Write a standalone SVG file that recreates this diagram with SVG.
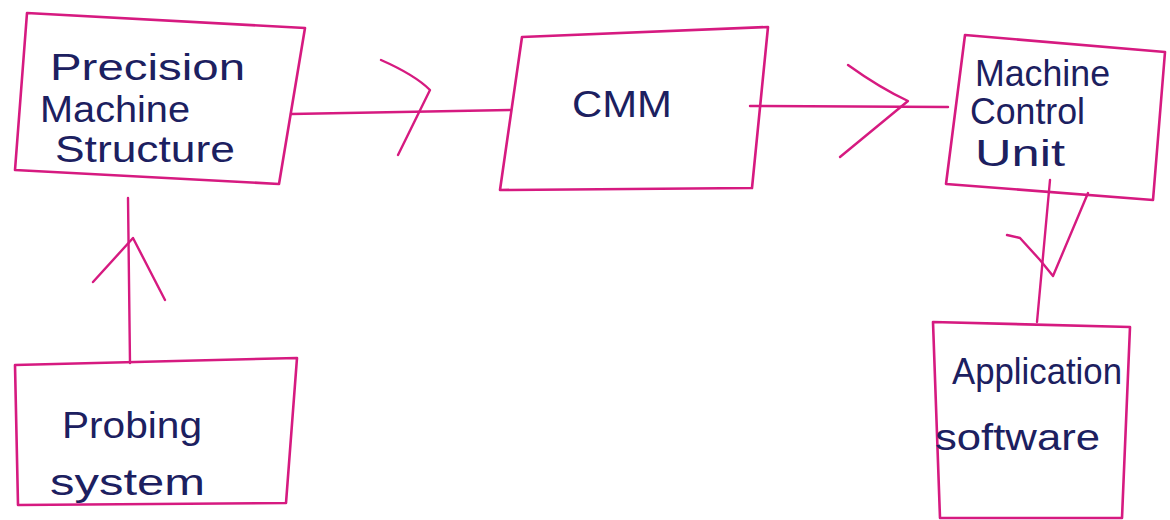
<svg xmlns="http://www.w3.org/2000/svg" width="1170" height="520" viewBox="0 0 1170 520">
<style>
.box{fill:none;stroke:#d61a80;stroke-width:2.6;stroke-linejoin:round}
.ln{fill:none;stroke:#d61a80;stroke-width:2.4;stroke-linecap:round;stroke-linejoin:round}
.t{font-family:"Liberation Sans",Arial,sans-serif;font-size:36px;fill:#1c2060}
</style>
<rect width="1170" height="520" fill="#ffffff"/>
<g id="precision-machine-structure">
<polygon class="box" points="27,13 305,28 279,184 15,170"/>
<text class="t" x="50" y="80" textLength="195" lengthAdjust="spacingAndGlyphs">Precision</text>
<text class="t" x="40" y="122" textLength="150" lengthAdjust="spacingAndGlyphs">Machine</text>
<text class="t" x="55" y="162" textLength="180" lengthAdjust="spacingAndGlyphs">Structure</text>
</g>
<g id="cmm">
<polygon class="box" points="522,37 768,27 752,188 500,190"/>
<text class="t" x="572" y="117" textLength="100" lengthAdjust="spacingAndGlyphs">CMM</text>
</g>
<g id="machine-control-unit">
<polygon class="box" points="965,35 1165,52 1153,200 946,184"/>
<text class="t" x="975" y="86" font-size="30" textLength="135" lengthAdjust="spacingAndGlyphs">Machine</text>
<text class="t" x="970" y="124" font-size="30" textLength="115" lengthAdjust="spacingAndGlyphs">Control</text>
<text class="t" x="975" y="166" font-size="30" textLength="90" lengthAdjust="spacingAndGlyphs">Unit</text>
</g>
<g id="probing-system">
<polygon class="box" points="15,365 297,358 286,503 18,505"/>
<text class="t" x="62" y="438" textLength="140" lengthAdjust="spacingAndGlyphs">Probing</text>
<text class="t" x="50" y="495" textLength="155" lengthAdjust="spacingAndGlyphs">system</text>
</g>
<g id="application-software">
<polygon class="box" points="933,322 1130,327 1122,518 940,518"/>
<text class="t" x="952" y="384" font-size="32" textLength="170" lengthAdjust="spacingAndGlyphs">Application</text>
<text class="t" x="935" y="450" font-size="32" textLength="165" lengthAdjust="spacingAndGlyphs">software</text>
</g>
<g id="connectors">
<path class="ln" d="M291,114 L510,110"/>
<path class="ln" d="M381,60 Q415,75 430,90 L398,155"/>
<path class="ln" d="M750,106 L948,107"/>
<path class="ln" d="M848,65 Q880,88 908,101 L840,157"/>
<path class="ln" d="M1050,180 L1037,322"/>
<path class="ln" d="M1007,235 L1020,238 L1040,260 L1053,276 L1088,193"/>
<path class="ln" d="M130,363 L128,198"/>
<path class="ln" d="M93,282 L133,238 L165,300"/>
</g>
</svg>
